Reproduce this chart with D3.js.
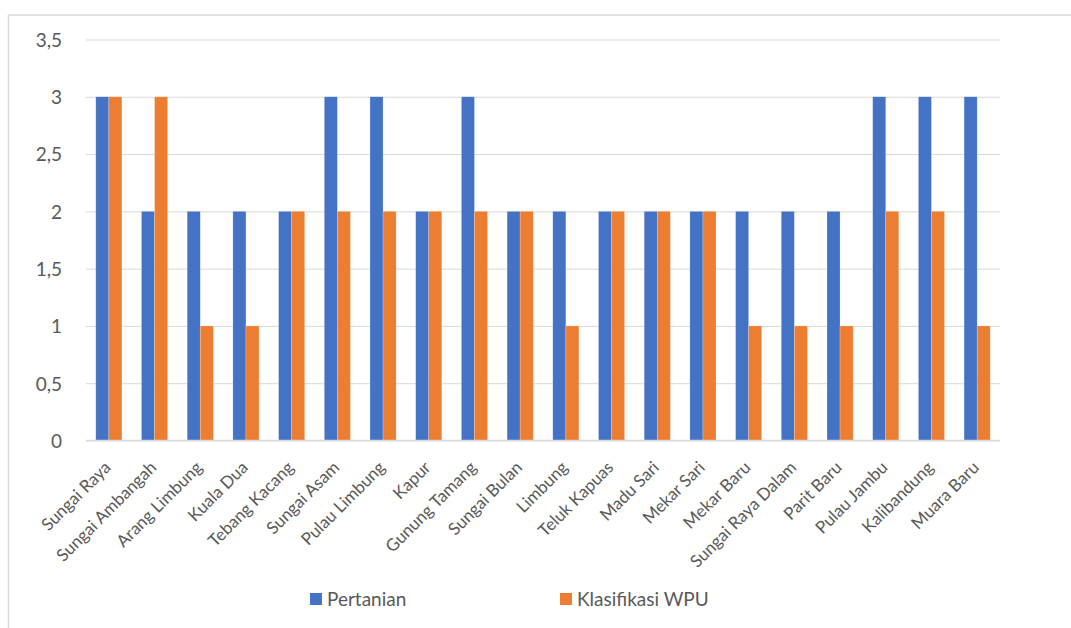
<!DOCTYPE html>
<html><head><meta charset="utf-8">
<script src="https://cdn.jsdelivr.net/npm/d3@7"></script>
<style>body{margin:0;background:#fff}svg{display:block}</style>
</head><body>
<svg id="c" width="1071" height="628"></svg>
<script>
const categories = ["Sungai Raya","Sungai Ambangah","Arang Limbung","Kuala Dua","Tebang Kacang","Sungai Asam","Pulau Limbung","Kapur","Gunung Tamang","Sungai Bulan","Limbung","Teluk Kapuas","Madu Sari","Mekar Sari","Mekar Baru","Sungai Raya Dalam","Parit Baru","Pulau Jambu","Kalibandung","Muara Baru"];
const pertanian = [3,2,2,2,2,3,3,2,3,2,2,2,2,2,2,2,2,3,3,3];
const wpu = [3,3,1,1,2,2,2,2,2,2,1,2,2,2,1,1,1,2,2,1];
const seriesNames = ["Pertanian","Klasifikasi WPU"];
const colors = ["#4472C4","#ED7D31"];
const yTicks = [0,0.5,1,1.5,2,2.5,3,3.5];

const svg = d3.select("#c");
const font = "Lato, 'Open Sans', sans-serif";
const textCol = "#595959";

// outer frame
svg.append("rect").attr("x",8.5).attr("y",15).attr("width",1080).attr("height",640)
  .attr("fill","none").attr("stroke","#d9d9d9").attr("stroke-width",1.5);

const L=86, R=1000, T=39.5, B=440.5;
const x = d3.scaleBand().domain(categories).range([L,R]).paddingInner(0).paddingOuter(0);
const y = d3.scaleLinear().domain([0,3.5]).range([B,T]);

// gridlines
const yAxis = d3.axisLeft(y).tickValues(yTicks).tickSize(-(R-L)).tickFormat(d=>String(d).replace(".",","));
const gy = svg.append("g").attr("transform",`translate(${L},0)`).call(yAxis);
gy.select(".domain").remove();
gy.selectAll(".tick line").attr("stroke","#d9d9d9").attr("stroke-width",1);
gy.selectAll(".tick text").attr("x",-24).attr("dy","0.36em").attr("fill",textCol).attr("font-size",19).attr("font-family",font);

// bars: gap width 150% of bar width
const gap = 1.5;
const bw = x.bandwidth()/(2+gap);
const sub = d3.scaleBand().domain(seriesNames).range([gap/2*bw, (gap/2+2)*bw]);
const data = [pertanian, wpu];
seriesNames.forEach((s,si)=>{
  svg.append("g").selectAll("rect").data(categories).join("rect")
    .attr("x",(c)=>x(c)+sub(s))
    .attr("width",sub.bandwidth())
    .attr("y",(c,i)=>y(data[si][i]))
    .attr("height",(c,i)=>y(0)-y(data[si][i]))
    .attr("fill",colors[si])
    .attr("stroke","rgba(255,255,255,0.35)").attr("stroke-width",0.6);
});

// x axis line
svg.append("line").attr("x1",L).attr("x2",R).attr("y1",B).attr("y2",B).attr("stroke","#d9d9d9").attr("stroke-width",1.5);

// x labels
const xAxis = d3.axisBottom(x).tickSize(0).tickPadding(0);
const gx = svg.append("g").attr("transform",`translate(0,${B})`).call(xAxis);
gx.select(".domain").remove();
gx.selectAll(".tick text")
  .attr("fill",textCol).attr("font-size",17).attr("font-family",font)
  .attr("text-anchor","end").attr("dy",0).attr("y",0)
  .attr("transform","translate(3,28) rotate(-45)");

// legend
const leg = [{x:310,name:seriesNames[0],c:colors[0]},{x:560,name:seriesNames[1],c:colors[1]}];
leg.forEach(l=>{
  svg.append("rect").attr("x",l.x).attr("y",593).attr("width",12).attr("height",12).attr("fill",l.c);
  svg.append("text").attr("x",l.x+17).attr("y",606).attr("fill",textCol).attr("font-size",19)
    .attr("font-family",font).text(l.name);
});
</script>
</body></html>
